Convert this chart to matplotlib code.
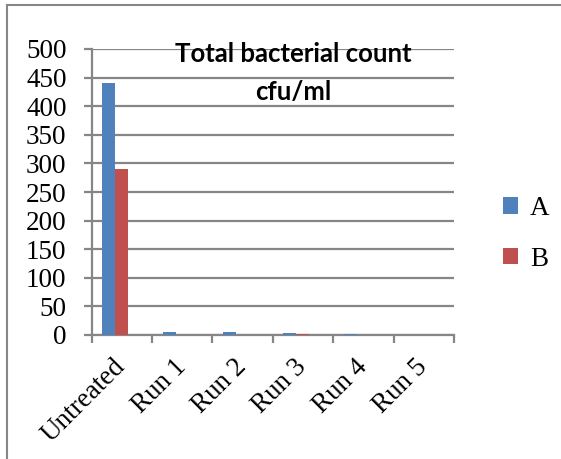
import matplotlib
matplotlib.use("Agg")
import matplotlib.pyplot as plt
from matplotlib.lines import Line2D
import numpy as np

# data
categories = ["Untreated", "Run 1", "Run 2", "Run 3", "Run 4", "Run 5"]
series_a = [440, 5, 5, 3, 1.5, 0]
series_b = [290, 0, 0.8, 1.5, 0.8, 0]
yticks = list(range(0, 501, 50))

W, H = 561, 459
fig = plt.figure(figsize=(W / 100, H / 100), dpi=100)

# plot area in pixel coords (left, top, right, bottom)
L, T, R, B = 91.5, 49, 454, 335
ax = fig.add_axes([L / W, 1 - B / H, (R - L) / W, (B - T) / H])

x = np.arange(len(categories))
w = 0.215
grey = "#868686"
ax.bar(x - w, series_a, w, color="#4F81BD", label="A", zorder=3)
ax.bar(x, series_b, w, color="#C0504D", label="B", zorder=3)

ax.set_xlim(-0.5, len(categories) - 0.5)
ax.set_ylim(0, 500)
ax.set_yticks(yticks)
ax.set_yticklabels([str(v) for v in yticks], family="Liberation Serif", fontsize=19.5)
ax.yaxis.grid(True, color=grey, linewidth=1.6, zorder=0)
ax.tick_params(axis="y", length=6, width=1.6, color=grey, pad=12)

# category ticks sit between categories, labels at centres
ax.set_xticks(np.arange(len(categories) + 1) - 0.5)
ax.set_xticklabels([])
ax.tick_params(axis="x", which="major", length=6, width=1.6, color=grey, direction="out")
ax.set_xticks(x, minor=True)
ax.set_xticklabels(categories, minor=True, family="Liberation Serif", fontsize=19.5,
                   rotation=45, ha="right", va="center", rotation_mode="anchor")
ax.tick_params(axis="x", which="minor", length=0, pad=20)

for s in ["top", "right"]:
    ax.spines[s].set_visible(False)
for s in ["left", "bottom"]:
    ax.spines[s].set_color(grey)
    ax.spines[s].set_linewidth(1.6)

# title inside plot area
fig.text(293 / W, 1 - 54 / H, "Total bacterial count", ha="center", va="center",
         family=["Lato", "DejaVu Sans"], fontweight="bold", fontsize=18.5)
fig.text(293 / W, 1 - 92 / H, "cfu/ml", ha="center", va="center",
         family=["Lato", "DejaVu Sans"], fontweight="bold", fontsize=18.5)

fig.legend(loc="center left", bbox_to_anchor=(503 / W, 1 - 234 / H), frameon=False,
           borderpad=0, borderaxespad=0,
           prop={"family": "Liberation Serif", "size": 19.5},
           handlelength=0.55, handleheight=0.55, handletextpad=0.45, labelspacing=0.95)

# outer chart frame (top and left edges visible)
fig.add_artist(Line2D([7 / W, 1], [1 - 5 / H, 1 - 5 / H], color=grey, linewidth=1.5))
fig.add_artist(Line2D([7 / W, 7 / W], [0, 1 - 5 / H], color=grey, linewidth=1.5))

fig.savefig("out.png", dpi=100)
